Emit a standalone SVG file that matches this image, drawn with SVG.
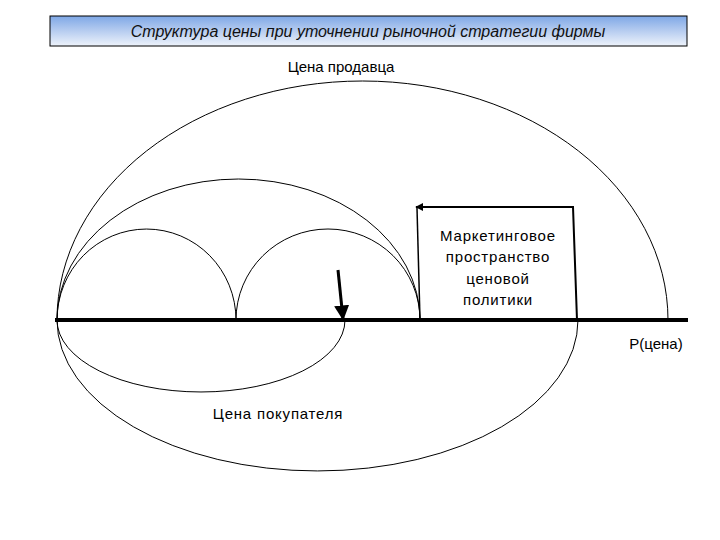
<svg xmlns="http://www.w3.org/2000/svg" width="720" height="540" viewBox="0 0 720 540">
<defs>
<linearGradient id="tg" x1="0" y1="0" x2="0" y2="1">
<stop offset="0" stop-color="#7ea7e6"/>
<stop offset="0.5" stop-color="#b7cdf0"/>
<stop offset="1" stop-color="#eef3fb"/>
</linearGradient>
<marker id="ah" viewBox="0 0 10 10" refX="9" refY="5" markerWidth="5" markerHeight="5" orient="auto" markerUnits="strokeWidth">
<path d="M0,0 L10,5 L0,10 z" fill="#000"/>
</marker>
<marker id="ah2" viewBox="0 0 10 10" refX="9" refY="5" markerWidth="4" markerHeight="4" orient="auto" markerUnits="strokeWidth">
<path d="M0,0 L10,5 L0,10 z" fill="#000"/>
</marker>
</defs>
<style>
.arc{fill:none;stroke:#000;stroke-width:1}
.lbl{font-family:"Liberation Sans","DejaVu Sans",sans-serif;font-size:15px;fill:#000;text-anchor:middle}
.sp{letter-spacing:0.8px}
.ttl{font-family:"Liberation Sans","DejaVu Sans",sans-serif;font-size:16px;font-style:italic;fill:#111;text-anchor:middle}
</style>
<g id="title">
<rect x="50" y="16" width="637" height="30" fill="url(#tg)" stroke="#000" stroke-width="1"/>
<text class="ttl" x="368" y="37">Структура цены при уточнении рыночной стратегии фирмы</text>
</g>
<g id="arcs">
<path class="arc" d="M57,320 A305.5,239 0 0 1 668,320"/>
<path class="arc" d="M57,320 A181.5,141 0 0 1 420,320"/>
<path class="arc" d="M57,320 A89.5,91 0 0 1 236,320"/>
<path class="arc" d="M236,320 A92,91 0 0 1 420,320"/>
<path class="arc" d="M57,320 A144,72 0 0 0 345,320"/>
<path class="arc" d="M57,320 A260.5,151 0 0 0 578,320"/>
</g>
<g id="axis">
<line x1="55" y1="320" x2="688" y2="320" stroke="#000" stroke-width="4"/>
<text class="lbl" x="656" y="349">P(цена)</text>
</g>
<g id="seller">
<text class="lbl" x="341" y="72">Цена продавца</text>
</g>
<g id="buyer">
<text class="lbl sp" x="278" y="419">Цена покупателя</text>
</g>
<g id="marketing">
<text class="lbl sp" x="498" y="241">Маркетинговое</text>
<text class="lbl sp" x="498" y="262">пространство</text>
<text class="lbl sp" x="498" y="284">ценовой</text>
<text class="lbl sp" x="498" y="305">политики</text>
</g>
<g id="connectors">
<path d="M577,320 L573,207 L416,207" fill="none" stroke="#000" stroke-width="2" marker-end="url(#ah2)"/>
<line x1="417" y1="208" x2="420" y2="320" stroke="#000" stroke-width="1.5"/>
<line x1="338" y1="270" x2="343" y2="319" stroke="#000" stroke-width="3" marker-end="url(#ah)"/>
</g>
</svg>
